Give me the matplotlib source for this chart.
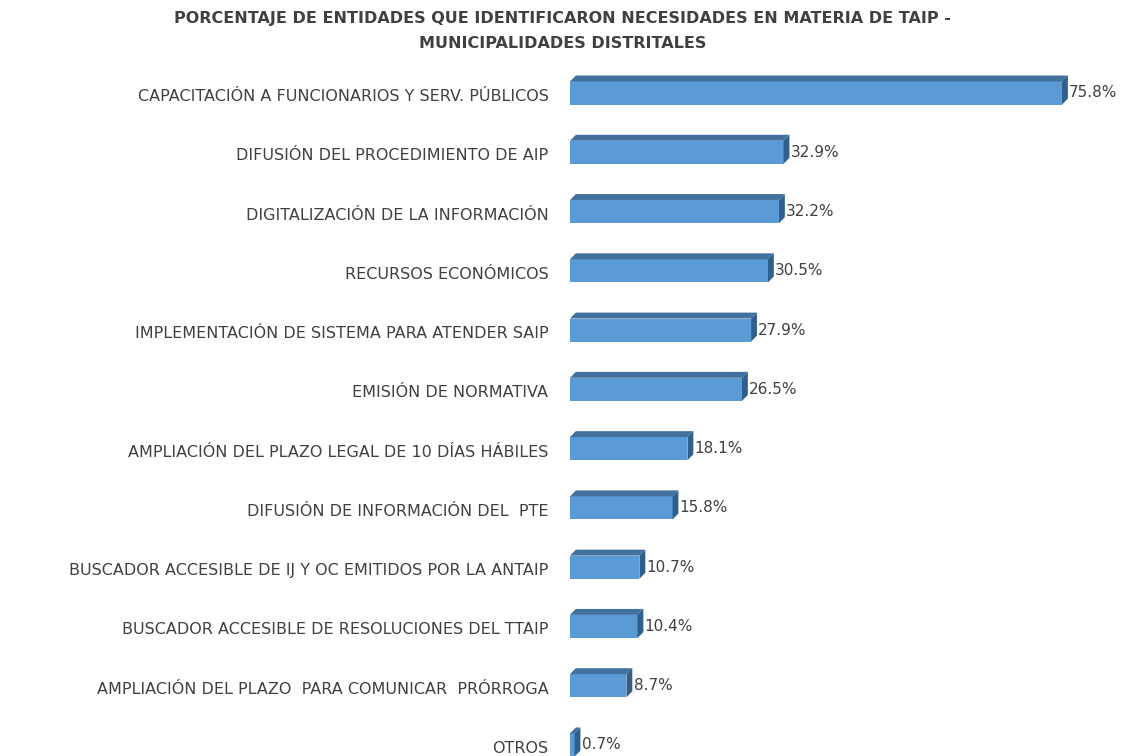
import matplotlib.pyplot as plt
import matplotlib.transforms as mtransforms
from matplotlib.patches import Polygon

categorias = [
    "CAPACITACIÓN A FUNCIONARIOS Y SERV. PÚBLICOS",
    "DIFUSIÓN DEL PROCEDIMIENTO DE AIP",
    "DIGITALIZACIÓN DE LA INFORMACIÓN",
    "RECURSOS ECONÓMICOS",
    "IMPLEMENTACIÓN DE SISTEMA PARA ATENDER SAIP",
    "EMISIÓN DE NORMATIVA",
    "AMPLIACIÓN DEL PLAZO LEGAL DE 10 DÍAS HÁBILES",
    "DIFUSIÓN DE INFORMACIÓN DEL  PTE",
    "BUSCADOR ACCESIBLE DE IJ Y OC EMITIDOS POR LA ANTAIP",
    "BUSCADOR ACCESIBLE DE RESOLUCIONES DEL TTAIP",
    "AMPLIACIÓN DEL PLAZO  PARA COMUNICAR  PRÓRROGA",
    "OTROS",
]
porcentajes = [75.8, 32.9, 32.2, 30.5, 27.9, 26.5, 18.1, 15.8, 10.7, 10.4, 8.7, 0.7]

plt.rcParams['font.family'] = ['DejaVu Sans']
gris = '#404040'

fig = plt.figure(figsize=(11.25, 7.56), dpi=100)
ax = fig.add_axes([570 / 1125, 0, 1 - 570 / 1125, 1])

alto = 0.39
dx, dy = 0.9, 0.1
pos = list(range(len(categorias)))
ax.barh(pos, porcentajes, height=alto, color='#5b9bd5', zorder=3)
for y, v in zip(pos, porcentajes):
    top = y - alto / 2
    bot = y + alto / 2
    # cara superior y lateral para el efecto 3D
    ax.add_patch(Polygon([(0, top), (v, top), (v + dx, top - dy), (dx, top - dy)],
                         closed=True, color='#41719c', zorder=3, lw=0))
    ax.add_patch(Polygon([(v, top), (v + dx, top - dy), (v + dx, bot - dy), (v, bot)],
                         closed=True, color='#2f5f8c', zorder=3, lw=0))
    ax.text(v + dx + 0.2, y, f"{v:.1f}%", va='center', ha='left', fontsize=11, color=gris)

ax.set_xlim(0, 85.5)
ax.set_ylim(11.186, -1.569)
ax.set_yticks(pos)
ax.set_yticklabels(categorias, fontsize=11.5, color=gris)
ax.tick_params(axis='y', length=0, pad=15.5)
desplaz = mtransforms.ScaledTranslation(0, -2 / 100, fig.dpi_scale_trans)
for lab in ax.get_yticklabels():
    lab.set_transform(lab.get_transform() + desplaz)
ax.set_xticks([])
for s in ax.spines.values():
    s.set_visible(False)

fig.text(0.5, 1 - 19 / 756, "PORCENTAJE DE ENTIDADES QUE IDENTIFICARON NECESIDADES EN MATERIA DE TAIP -",
         ha='center', va='center', fontsize=11.5, fontweight='bold', color=gris)
fig.text(0.5, 1 - 43 / 756, "MUNICIPALIDADES DISTRITALES",
         ha='center', va='center', fontsize=11.5, fontweight='bold', color=gris)

fig.savefig('out.png', dpi=100)
